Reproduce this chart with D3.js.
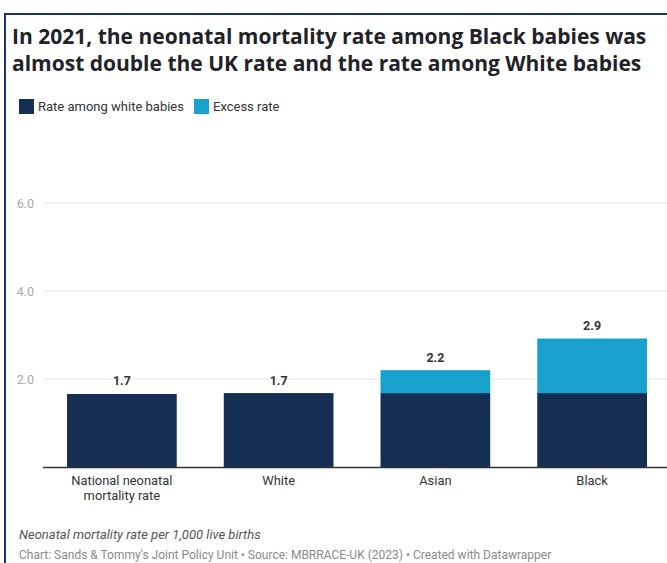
<!DOCTYPE html>
<html>
<head>
<meta charset="utf-8">
<script src="https://cdn.jsdelivr.net/npm/d3@7"></script>
<style>
  html, body { margin: 0; padding: 0; background: #fff; }
  svg { display: block; }
</style>
</head>
<body>
<script>
// Neonatal mortality per 1,000 live births, 2021
const categories = [["National neonatal", "mortality rate"], ["White"], ["Asian"], ["Black"]];
const whiteRate = [1.66, 1.68, 1.68, 1.68];   // dark segment
const excessRate = [0, 0, 0.52, 1.24];        // light segment above the white rate
const yTicks = [2, 4, 6];
const seriesNames = ["Rate among white babies", "Excess rate"];
const colors = ["#152e54", "#18a1cd"];

const W = 667, H = 563;
const svg = d3.select("body").append("svg").attr("width", W).attr("height", H);

// frame
svg.append("path")
  .attr("d", `M5,${H} V14 H${W}`)
  .attr("fill", "none").attr("stroke", "#1c3767").attr("stroke-width", 2);

// title
const title = svg.append("text")
  .attr("font-family", "'Open Sans', sans-serif").attr("font-weight", 700)
  .attr("font-size", 21).attr("fill", "#1f2328");
title.append("tspan").attr("x", 12).attr("y", 44)
  .text("In 2021, the neonatal mortality rate among Black babies was");
title.append("tspan").attr("x", 12).attr("y", 71)
  .text("almost double the UK rate and the rate among White babies");

// legend
const legend = svg.append("g").attr("font-family", "Roboto, sans-serif").attr("font-size", 13).attr("fill", "#333");
const legendX = [19, 194];
seriesNames.forEach((n, i) => {
  legend.append("rect").attr("x", legendX[i]).attr("y", 99).attr("width", 15).attr("height", 15).attr("fill", colors[i]);
  legend.append("text").attr("x", legendX[i] + 19).attr("y", 111).text(n);
});

// scales
const x = d3.scaleBand().domain(d3.range(categories.length)).range([44, 670])
  .paddingInner(0.3).paddingOuter(0.147);
const y = d3.scaleLinear().domain([0, 6]).range([467, 203]);

// gridlines + y labels
const grid = svg.append("g");
yTicks.forEach(t => {
  grid.append("line").attr("x1", 44).attr("x2", W).attr("y1", y(t)).attr("y2", y(t))
    .attr("stroke", "#e3e3e3").attr("stroke-width", 1);
  grid.append("text").attr("x", 34).attr("y", y(t) + 4.5).attr("text-anchor", "end")
    .attr("font-family", "Roboto, sans-serif").attr("font-size", 12.5).attr("fill", "#a8a8a8")
    .text(t.toFixed(1));
});

// stacked bars
const stacked = d3.stack().keys([0, 1])
  .value((d, k) => k === 0 ? d.white : d.excess)(
    categories.map((c, i) => ({ i, white: whiteRate[i], excess: excessRate[i] })));

stacked.forEach((layer, k) => {
  svg.append("g").selectAll("rect").data(layer).join("rect")
    .attr("x", d => x(d.data.i))
    .attr("width", x.bandwidth())
    .attr("y", d => y(d[1]))
    .attr("height", d => y(d[0]) - y(d[1]))
    .attr("fill", colors[k]);
});

// value labels
svg.append("g").selectAll("text").data(categories.map((c, i) => i)).join("text")
  .attr("x", i => x(i) + x.bandwidth() / 2)
  .attr("y", i => y(whiteRate[i] + excessRate[i]) - 8.5)
  .attr("text-anchor", "middle")
  .attr("font-family", "Roboto, sans-serif").attr("font-weight", 700).attr("font-size", 12.5)
  .attr("fill", "#333")
  .text(i => d3.format(".1f")(whiteRate[i] + excessRate[i]));

// baseline
svg.append("line").attr("x1", 43).attr("x2", W).attr("y1", y(0) + 0.5).attr("y2", y(0) + 0.5)
  .attr("stroke", "#333").attr("stroke-width", 1.5);

// category labels
const xl = svg.append("g").attr("font-family", "Roboto, sans-serif").attr("font-size", 12.9)
  .attr("fill", "#333").attr("text-anchor", "middle");
categories.forEach((lines, i) => {
  lines.forEach((ln, j) => {
    xl.append("text").attr("x", x(i) + x.bandwidth() / 2).attr("y", 485 + j * 15).text(ln);
  });
});

// notes
svg.append("text").attr("x", 19).attr("y", 539)
  .attr("font-family", "Roboto, sans-serif").attr("font-style", "italic").attr("font-size", 13)
  .attr("fill", "#555").text("Neonatal mortality rate per 1,000 live births");
svg.append("text").attr("x", 19).attr("y", 559)
  .attr("font-family", "Roboto, sans-serif").attr("font-size", 12)
  .attr("fill", "#8a8a8a")
  .text("Chart: Sands & Tommy's Joint Policy Unit \u2022 Source: MBRRACE-UK (2023) \u2022 Created with Datawrapper");
</script>
</body>
</html>
